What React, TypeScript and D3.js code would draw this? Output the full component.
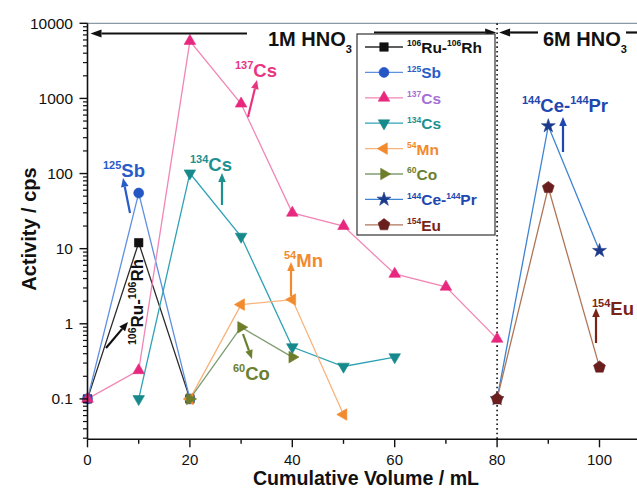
import React from 'react';
import * as d3 from 'd3';

// ---- data (Cumulative volume mL, Activity cps) ----
const ruRhX = [0, 10, 20];
const ruRhY = [0.1, 12, 0.1];
const sbX = [0, 10, 20];
const sbY = [0.1, 55, 0.1];
const cs137X = [0, 10, 20, 30, 40, 50, 60, 70, 80];
const cs137Y = [0.1, 0.24, 5800, 850, 30, 20, 4.6, 3.1, 0.63];
const cs134X = [10, 20, 30, 40, 50, 60];
const cs134Y = [0.1, 101, 14.5, 0.49, 0.27, 0.36];
const mn54X = [20, 30, 40, 50];
const mn54Y = [0.1, 1.8, 2.1, 0.062];
const co60X = [20, 30, 40];
const co60Y = [0.1, 0.9, 0.36];
const cePrX = [80, 90, 100];
const cePrY = [0.1, 430, 9.4];
const eu154X = [80, 90, 100];
const eu154Y = [0.1, 65, 0.265];

const xTicks = [0, 10, 20, 30, 40, 50, 60, 70, 80, 90, 100];
const xTickLabels = ['0', '20', '40', '60', '80', '100'];
const yTickValues = [0.1, 1, 10, 100, 1000, 10000];
const yTickLabels = ['0.1', '1', '10', '100', '1000', '10000'];

type Part = [string, string];
interface Series {
  parts: Part[];
  xs: number[];
  ys: number[];
  line: string;
  marker: string;
  label: string;
  shape: string;
}

const series: Series[] = [
  { parts: [['106', 'Ru-'], ['106', 'Rh']], xs: ruRhX, ys: ruRhY, line: '#2a2a2a', marker: '#111111', label: '#111111', shape: 'square' },
  { parts: [['125', 'Sb']], xs: sbX, ys: sbY, line: '#5f8fe0', marker: '#2456c4', label: '#2a5cc8', shape: 'circle' },
  { parts: [['137', 'Cs']], xs: cs137X, ys: cs137Y, line: '#f286b6', marker: '#e8287e', label: '#a56fd4', shape: 'up' },
  { parts: [['134', 'Cs']], xs: cs134X, ys: cs134Y, line: '#2ea2b4', marker: '#16898b', label: '#1d9090', shape: 'down' },
  { parts: [['54', 'Mn']], xs: mn54X, ys: mn54Y, line: '#f8b37c', marker: '#f28a2e', label: '#f28a2e', shape: 'left' },
  { parts: [['60', 'Co']], xs: co60X, ys: co60Y, line: '#7f9c72', marker: '#6d7d2a', label: '#6b802f', shape: 'right' },
  { parts: [['144', 'Ce-'], ['144', 'Pr']], xs: cePrX, ys: cePrY, line: '#3f84d2', marker: '#1c3a8c', label: '#2047b0', shape: 'star' },
  { parts: [['154', 'Eu']], xs: eu154X, ys: eu154Y, line: '#b07558', marker: '#6a1e1e', label: '#7a2418', shape: 'pentagon' },
];

interface Annot {
  parts: Part[];
  x: number;
  y: number;
  color: string;
  arrow: [number, number, number, number];
  rotate?: boolean;
}

const annotations: Annot[] = [
  { parts: [['125', 'Sb']], x: 103, y: 177, color: '#2a5cc8', arrow: [130, 213, 123, 178] },
  { parts: [['134', 'Cs']], x: 190, y: 171, color: '#1d9090', arrow: [222, 205, 222, 173] },
  { parts: [['137', 'Cs']], x: 235, y: 77, color: '#e8357f', arrow: [248, 117, 257, 80] },
  { parts: [['60', 'Co']], x: 233, y: 380, color: '#6b802f', arrow: [243, 334, 252, 359] },
  { parts: [['54', 'Mn']], x: 284, y: 267, color: '#f28a2e', arrow: [291, 296, 291, 262] },
  { parts: [['144', 'Ce-'], ['144', 'Pr']], x: 522, y: 112, color: '#2047b0', arrow: [563, 152, 563, 117] },
  { parts: [['154', 'Eu']], x: 592, y: 315, color: '#7a2418', arrow: [596, 343, 596, 308] },
  { parts: [['106', 'Ru-'], ['106', 'Rh']], x: 143, y: 345, color: '#111111', arrow: [106, 348, 128, 322], rotate: true },
];

const W = 637;
const H = 488;
const FONT = "'Liberation Sans', Arial, Helvetica, sans-serif";

const x = d3.scaleLinear().domain([0, 100]).range([87.5, 599.5]);
const y = d3.scaleLog().domain([0.029, 10000]).range([439.3, 23.3]);
const AX_X = x(0);
const AX_Y = y(0.029);
const RIGHT = W;

function markerPath(shape: string): { d: string; rot: number } {
  switch (shape) {
    case 'square':
      return { d: d3.symbol(d3.symbolSquare, 72)() as string, rot: 0 };
    case 'circle':
      return { d: d3.symbol(d3.symbolCircle, 78)() as string, rot: 0 };
    case 'up':
      return { d: d3.symbol(d3.symbolTriangle, 58)() as string, rot: 0 };
    case 'down':
      return { d: d3.symbol(d3.symbolTriangle, 58)() as string, rot: 180 };
    case 'left':
      return { d: d3.symbol(d3.symbolTriangle, 58)() as string, rot: -90 };
    case 'right':
      return { d: d3.symbol(d3.symbolTriangle, 58)() as string, rot: 90 };
    case 'star':
      return { d: d3.symbol(d3.symbolStar, 60)() as string, rot: 0 };
    default: {
      const r = 6.2;
      const pts = d3.range(5).map((i) => {
        const a = -Math.PI / 2 + (i * 2 * Math.PI) / 5;
        return [r * Math.cos(a), r * Math.sin(a)];
      });
      return { d: 'M' + pts.map((p) => p.join(',')).join('L') + 'Z', rot: 0 };
    }
  }
}

function IsoText(props: {
  parts: Part[];
  x: number;
  y: number;
  size: number;
  sup: number;
  color: string;
  transform?: string;
}) {
  const { parts, size, sup, color } = props;
  const shift = size * 0.42;
  const kids: React.ReactNode[] = [];
  parts.forEach((p, i) => {
    kids.push(
      <tspan key={'s' + i} fontSize={sup} dy={-shift}>
        {p[0]}
      </tspan>
    );
    kids.push(
      <tspan key={'m' + i} fontSize={size} dy={shift}>
        {p[1]}
      </tspan>
    );
  });
  return (
    <text
      x={props.transform ? 0 : props.x}
      y={props.transform ? 0 : props.y}
      transform={props.transform}
      fill={color}
      fontWeight="bold"
      fontFamily={FONT}
      fontSize={size}
    >
      {kids}
    </text>
  );
}

function Arrow(props: { x1: number; y1: number; x2: number; y2: number; color: string; w?: number; head?: number; hw?: number }) {
  const { x1, y1, x2, y2, color } = props;
  const w = props.w ?? 2;
  const head = props.head ?? 9;
  const hw = props.hw ?? 3.8;
  const ang = Math.atan2(y2 - y1, x2 - x1);
  const bx = x2 - head * Math.cos(ang);
  const by = y2 - head * Math.sin(ang);
  const px = -Math.sin(ang) * hw;
  const py = Math.cos(ang) * hw;
  return (
    <g>
      <line x1={x1} y1={y1} x2={bx} y2={by} stroke={color} strokeWidth={w} />
      <polygon points={`${x2},${y2} ${bx + px},${by + py} ${bx - px},${by - py}`} fill={color} />
    </g>
  );
}

export default function App() {
  const lineGen = d3
    .line<[number, number]>()
    .x((d) => x(d[0]))
    .y((d) => y(d[1]));

  // log minor ticks
  const minor: number[] = [];
  for (let e = -2; e <= 3; e++) {
    for (let k = 2; k <= 9; k++) {
      const v = k * Math.pow(10, e);
      if (v >= 0.029 && v <= 10000) minor.push(v);
    }
  }

  const legX = 357;
  const legY = 34;
  const legW = 138;
  const legH = 201;
  const rowY0 = 47;
  const rowDy = 25.4;

  return (
    <svg
      width={W}
      height={H}
      style={{ position: 'absolute', left: 0, top: 0, background: '#ffffff' }}
      fontFamily={FONT}
    >
      <rect x={0} y={0} width={W} height={H} fill="#ffffff" />
      {/* top frame */}
      <line x1={AX_X} y1={y(10000)} x2={RIGHT} y2={y(10000)} stroke="#8c9aa6" strokeWidth={1.2} />

      {/* dotted separator at 80 mL */}
      <line x1={x(80)} y1={y(10000)} x2={x(80)} y2={AX_Y} stroke="#111" strokeWidth={1.6} strokeDasharray="1.6,3" />

      {/* series lines */}
      {series.map((s, i) => (
        <path
          key={'l' + i}
          d={lineGen(s.xs.map((v, j) => [v, s.ys[j]] as [number, number])) as string}
          fill="none"
          stroke={s.line}
          strokeWidth={1.3}
        />
      ))}
      {/* markers */}
      {series.map((s, i) => {
        const m = markerPath(s.shape);
        return (
          <g key={'m' + i}>
            {s.xs.map((v, j) => (
              <path
                key={j}
                d={m.d}
                transform={`translate(${x(v)},${y(s.ys[j])}) rotate(${m.rot})`}
                fill={s.marker}
                stroke={s.marker}
                strokeWidth={0.6}
              />
            ))}
          </g>
        );
      })}

      {/* axes */}
      <line x1={AX_X} y1={AX_Y} x2={RIGHT} y2={AX_Y} stroke="#111" strokeWidth={1.6} />
      <line x1={AX_X} y1={AX_Y} x2={AX_X} y2={y(10000)} stroke="#111" strokeWidth={1.6} />
      {xTicks.map((t, i) => (
        <line key={'xt' + i} x1={x(t)} y1={AX_Y} x2={x(t)} y2={AX_Y + (t % 20 === 0 ? 8 : 4.5)} stroke="#111" strokeWidth={1.4} />
      ))}
      {xTickLabels.map((l, i) => (
        <text key={'xl' + i} x={x(+l)} y={465} textAnchor="middle" fontSize={15} fill="#111">
          {l}
        </text>
      ))}
      {yTickValues.map((t, i) => (
        <g key={'yt' + i}>
          <line x1={AX_X - 8} y1={y(t)} x2={AX_X} y2={y(t)} stroke="#111" strokeWidth={1.4} />
          <text x={73} y={y(t)} dy="0.36em" textAnchor="end" fontSize={15.5} fill="#111">
            {yTickLabels[i]}
          </text>
        </g>
      ))}
      {minor.map((t, i) => (
        <line key={'ym' + i} x1={AX_X - 4.5} y1={y(t)} x2={AX_X} y2={y(t)} stroke="#111" strokeWidth={1.2} />
      ))}

      {/* axis titles */}
      <text
        transform={`translate(36,229) rotate(-90)`}
        textAnchor="middle"
        fontWeight="bold"
        fontSize={20}
        fill="#111"
      >
        Activity / cps
      </text>
      <text x={366} y={485} textAnchor="middle" fontWeight="bold" fontSize={19.6} fill="#111">
        Cumulative Volume / mL
      </text>

      {/* HNO3 region labels and arrows */}
      <Arrow x1={247} y1={33.5} x2={AX_X + 3} y2={33.5} color="#111" w={2.2} head={11} hw={4} />
      <text x={268} y={46} fontWeight="bold" fontSize={20} fill="#111">
        1M HNO<tspan fontSize={11} dy={7}>3</tspan>
      </text>
      <Arrow x1={374} y1={32.5} x2={x(80) - 1} y2={32.5} color="#111" w={2.2} head={11} hw={4} />
      <Arrow x1={538} y1={32.5} x2={x(80) + 2} y2={32.5} color="#111" w={2.2} head={11} hw={4} />
      <text x={543} y={46} fontWeight="bold" fontSize={20} fill="#111">
        6M HNO<tspan fontSize={11} dy={7}>3</tspan>
      </text>
      <line x1={626} y1={32.5} x2={RIGHT} y2={32.5} stroke="#111" strokeWidth={2.2} />

      {/* legend */}
      <rect x={legX} y={legY} width={legW} height={legH} fill="#ffffff" stroke="#333" strokeWidth={1.2} />
      {series.map((s, i) => {
        const ry = rowY0 + i * rowDy;
        const m = markerPath(s.shape);
        return (
          <g key={'lg' + i}>
            <line x1={365} y1={ry} x2={403} y2={ry} stroke={s.line} strokeWidth={1.3} />
            <path d={m.d} transform={`translate(384,${ry}) rotate(${m.rot})`} fill={s.marker} stroke={s.marker} strokeWidth={0.6} />
            <IsoText parts={s.parts} x={407} y={ry + 6} size={15.5} sup={8.5} color={s.label} />
          </g>
        );
      })}

      {/* annotations */}
      {annotations.map((a, i) => (
        <g key={'an' + i}>
          {a.rotate ? (
            <IsoText parts={a.parts} x={a.x} y={a.y} size={17} sup={10.5} color={a.color} transform={`translate(${a.x},${a.y}) rotate(-90)`} />
          ) : (
            <IsoText parts={a.parts} x={a.x} y={a.y} size={18.5} sup={11} color={a.color} />
          )}
          <Arrow x1={a.arrow[0]} y1={a.arrow[1]} x2={a.arrow[2]} y2={a.arrow[3]} color={a.color} w={2.2} head={9} hw={3.8} />
        </g>
      ))}
    </svg>
  );
}
